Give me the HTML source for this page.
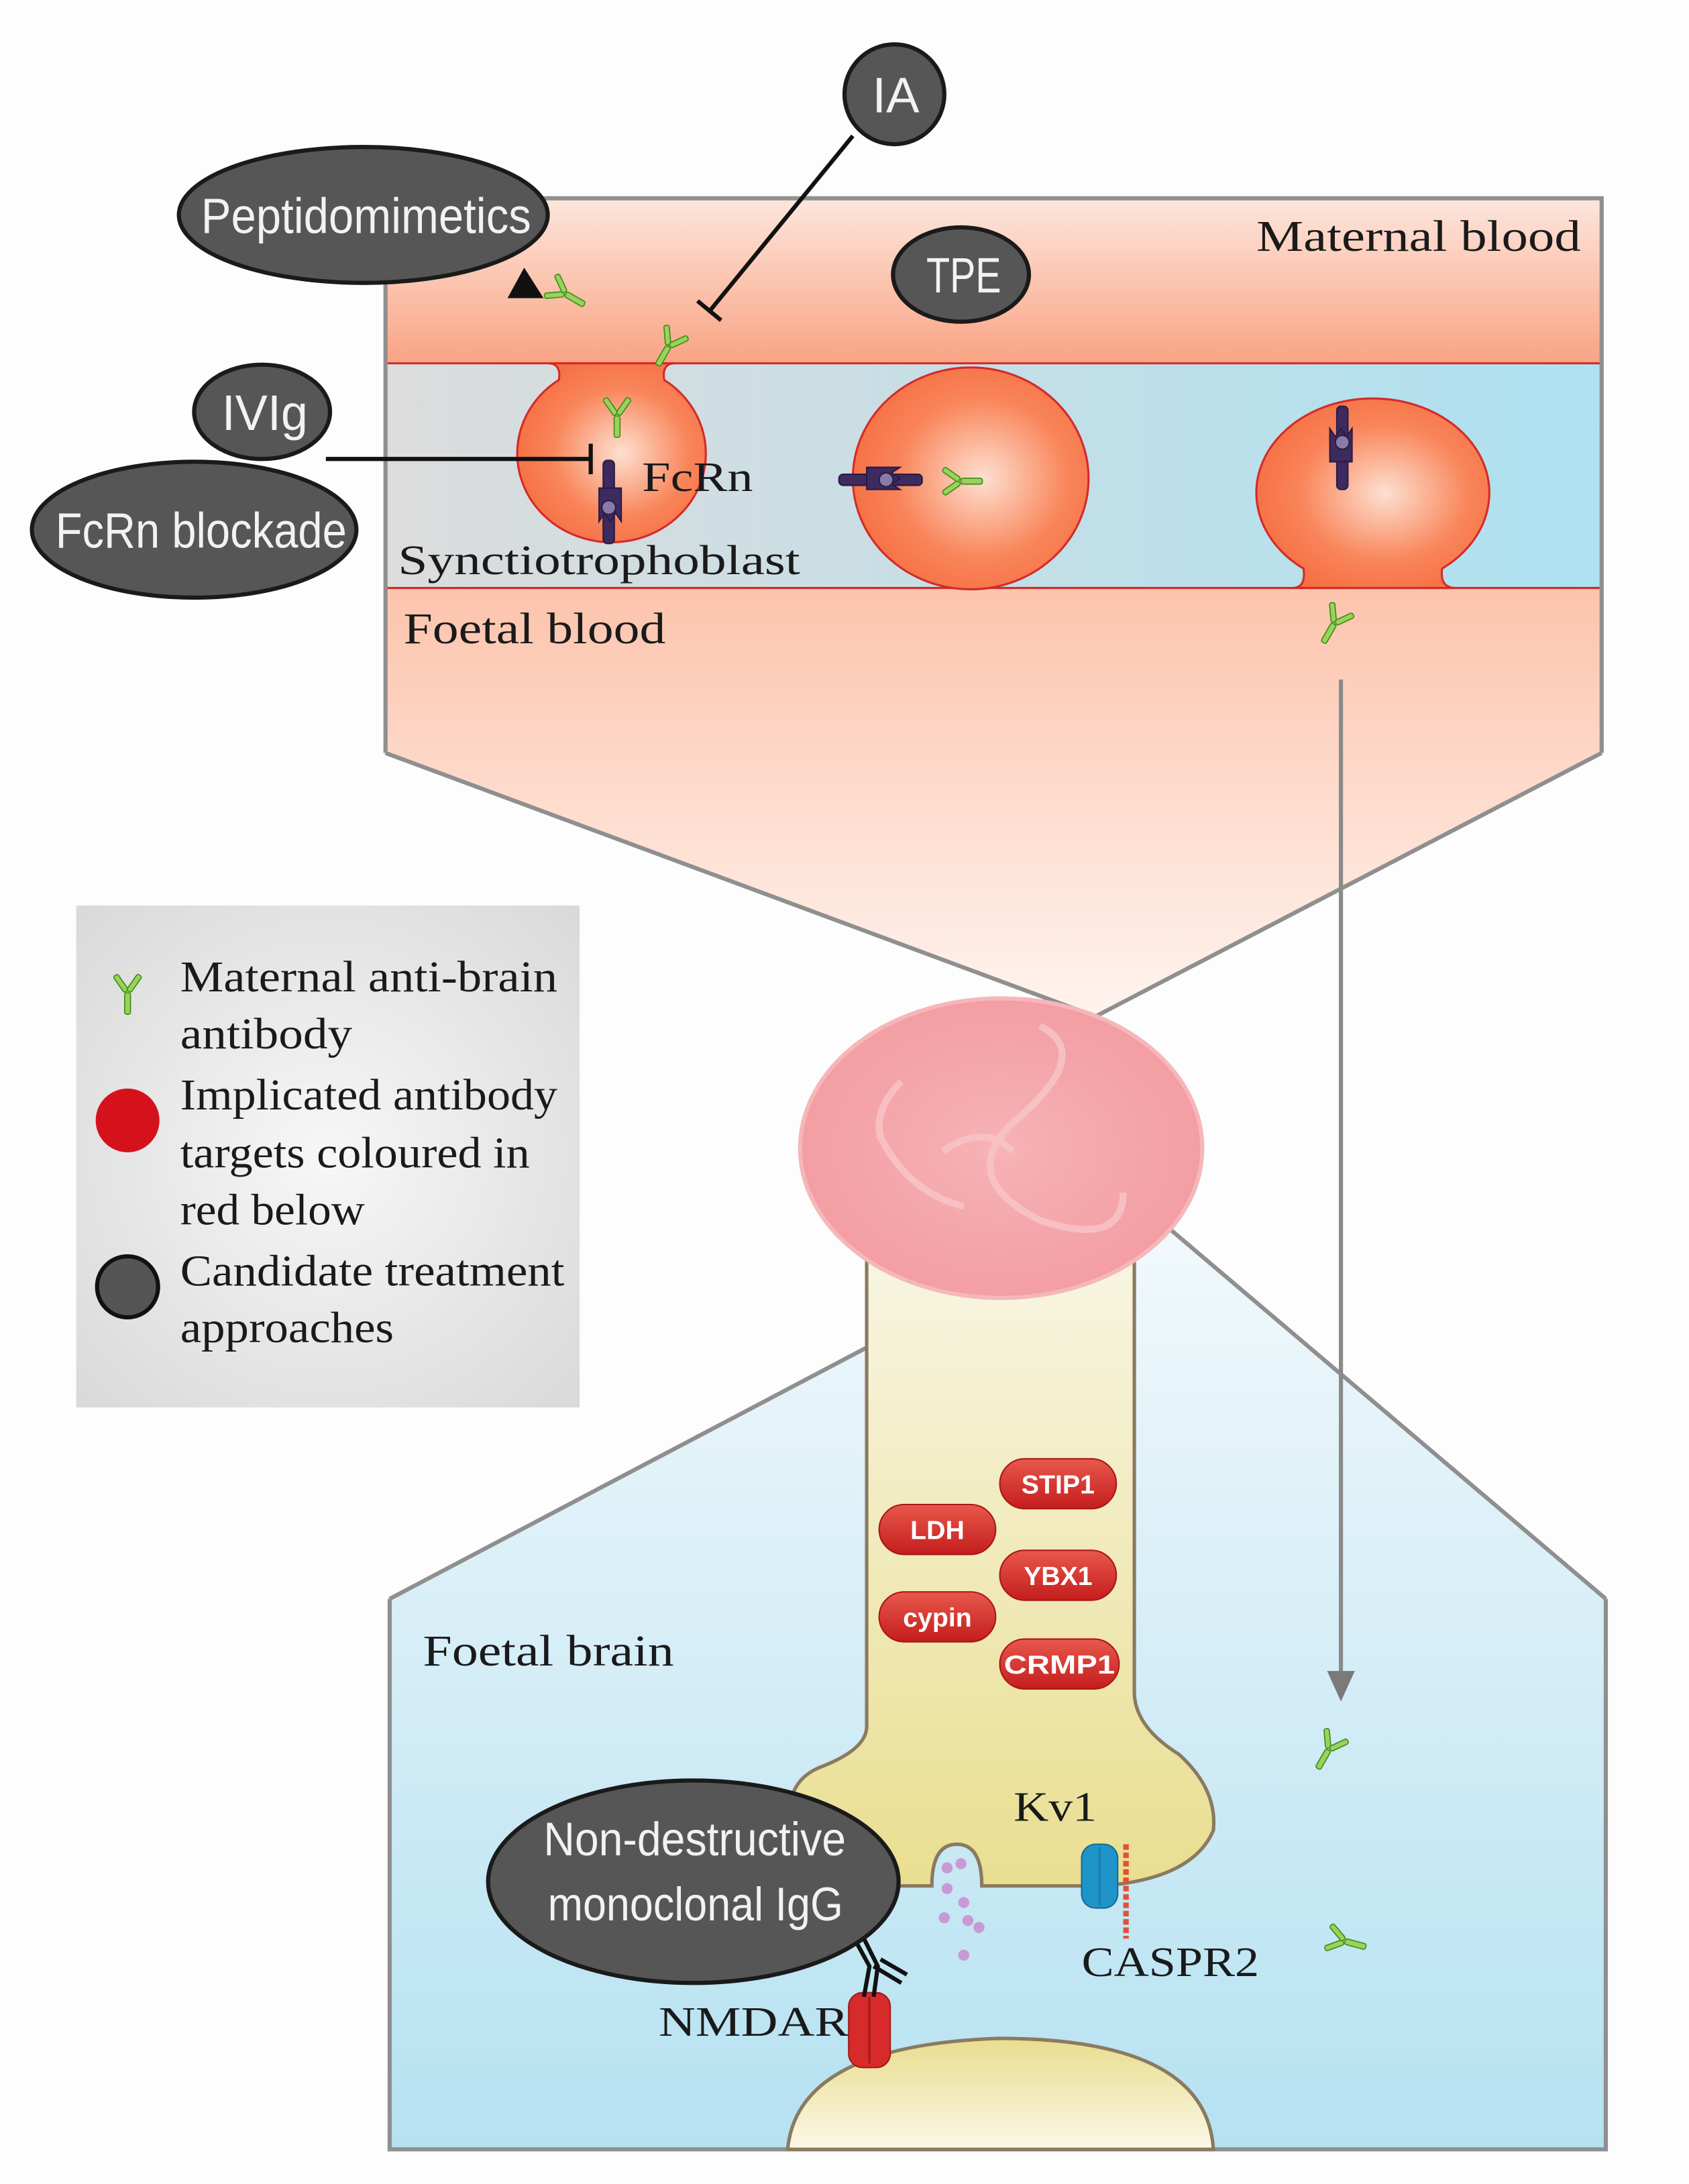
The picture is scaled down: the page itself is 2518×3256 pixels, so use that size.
<!DOCTYPE html>
<html><head><meta charset="utf-8"><style>
html,body{margin:0;padding:0;background:#fdfdfd}
svg{display:block}
.s{font-family:"Liberation Serif",serif;fill:#1a1a1a}
.b{font-family:"Liberation Sans",sans-serif;fill:#f2f2f2}
.p{font-family:"Liberation Sans",sans-serif;font-weight:bold;fill:#fff;font-size:19px}
</style></head><body>
<svg width="2518" height="3256" viewBox="0 0 1218 1575" preserveAspectRatio="none" xmlns="http://www.w3.org/2000/svg">
<defs>
<linearGradient id="mat" x1="0" y1="0" x2="0" y2="1"><stop offset="0" stop-color="#fde6dc"/><stop offset="1" stop-color="#f9a383"/></linearGradient>
<linearGradient id="band" x1="0" y1="0" x2="1" y2="0"><stop offset="0" stop-color="#dcdcdc"/><stop offset="1" stop-color="#ade1f1"/></linearGradient>
<linearGradient id="foet" x1="0" y1="0" x2="0" y2="1"><stop offset="0" stop-color="#f9a585"/><stop offset="0.35" stop-color="#fbb89c"/><stop offset="1" stop-color="#fff4ef"/></linearGradient>
<radialGradient id="cell" cx="0.55" cy="0.5" r="0.6"><stop offset="0" stop-color="#fde0d0"/><stop offset="0.6" stop-color="#f9855a"/><stop offset="1" stop-color="#f56d40"/></radialGradient>
<linearGradient id="brain" x1="0" y1="0" x2="0" y2="1"><stop offset="0" stop-color="#f3f9fc"/><stop offset="1" stop-color="#b5e1f1"/></linearGradient>
<linearGradient id="axon" x1="0" y1="0" x2="0" y2="1"><stop offset="0" stop-color="#f8f5e2"/><stop offset="1" stop-color="#e9de90"/></linearGradient>
<linearGradient id="dome" x1="0" y1="0" x2="0" y2="1"><stop offset="0" stop-color="#e9dd8e"/><stop offset="1" stop-color="#fbf8e8"/></linearGradient>
<radialGradient id="leg" cx="0.5" cy="0.5" r="0.7"><stop offset="0" stop-color="#f7f7f7"/><stop offset="1" stop-color="#d9d9d9"/></radialGradient>
<radialGradient id="fet" cx="0.5" cy="0.5" r="0.5"><stop offset="0" stop-color="#f6b3b5"/><stop offset="1" stop-color="#f39ea3"/></radialGradient>
<linearGradient id="pill" x1="0" y1="0" x2="0" y2="1"><stop offset="0" stop-color="#e8584c"/><stop offset="1" stop-color="#c41d1d"/></linearGradient>
<symbol id="ab" viewBox="-20 -25 40 50" overflow="visible">
<g fill="#9bd25a" stroke="#3f8f1e" stroke-width="1.2">
<rect x="-3" y="0" width="6" height="22" rx="2"/>
<rect x="-2.8" y="-22" width="5.5" height="20" rx="2" transform="rotate(-35 0 0)"/>
<rect x="-2.8" y="-22" width="5.5" height="20" rx="2" transform="rotate(35 0 0)"/>
</g></symbol>
<symbol id="fc" viewBox="-15 -30 30 60" overflow="visible">
<g fill="#3d2a5e" stroke="#2a1b45" stroke-width="1">
<rect x="-5" y="-30" width="8" height="60" rx="3"/>
<path d="M-8 -10 h16 v24 l-4 -6 l-4 6 l-4 -6 l-4 6z"/>
<circle cx="-1" cy="4" r="5" fill="#8a7aa8"/>
</g></symbol>
</defs>
<rect width="1218" height="1575" fill="#fdfdfd"/>

<!-- top panel -->
<polygon points="278,143 1155,143 1155,543 790,733 278,543" fill="url(#foet)"/>
<rect x="278" y="143" width="877" height="120" fill="url(#mat)"/>
<rect x="278" y="262" width="877" height="162" fill="url(#band)"/>
<line x1="278" y1="262" x2="1155" y2="262" stroke="#d42a2a" stroke-width="1.5"/>
<line x1="278" y1="424" x2="1155" y2="424" stroke="#d42a2a" stroke-width="1.5"/>
<!-- cells -->
<path d="M395 262 q10 0 8 12 a68 64 0 1 0 76 0 q-2 -12 8 -12z" fill="url(#cell)" stroke="#d42a2a" stroke-width="1.5"/>
<ellipse cx="700" cy="345" rx="85" ry="80" fill="url(#cell)" stroke="#d42a2a" stroke-width="1.5"/>
<path d="M932 424 q10 0 8 -14 A84 68 0 1 1 1040 410 q-2 14 10 14z" fill="url(#cell)" stroke="#d42a2a" stroke-width="1.5"/>
<polyline points="278,543 790,733 1155,543" fill="none" stroke="#8f8f8f" stroke-width="3"/>
<polyline points="278,543 278,143 1155,143 1155,543" fill="none" stroke="#8f8f8f" stroke-width="3"/>

<!-- fcrn -->
<use href="#fc" x="425" y="332" width="30" height="60"/>
<g transform="translate(635 345) rotate(-90)"><use href="#fc" x="-15" y="-30" width="30" height="60"/></g>
<g transform="translate(967 323) rotate(180)"><use href="#fc" x="-15" y="-30" width="30" height="60"/></g>

<!-- antibodies -->
<g transform="translate(408 212) rotate(-60)"><use href="#ab" x="-14" y="-18" width="28" height="36"/></g>
<g transform="translate(482 250) rotate(30)"><use href="#ab" x="-14" y="-18" width="28" height="36"/></g>
<g transform="translate(445 300)"><use href="#ab" x="-14" y="-18" width="28" height="36"/></g>
<g transform="translate(693 347) rotate(-90)"><use href="#ab" x="-14" y="-18" width="28" height="36"/></g>
<g transform="translate(962 450) rotate(30)"><use href="#ab" x="-14" y="-18" width="28" height="36"/></g>

<!-- labels top -->
<text class="s" x="906" y="181" font-size="32" textLength="234" lengthAdjust="spacingAndGlyphs">Maternal blood</text>
<text class="s" x="463" y="354" font-size="30" textLength="80" lengthAdjust="spacingAndGlyphs">FcRn</text>
<text class="s" x="287" y="414" font-size="30" textLength="290" lengthAdjust="spacingAndGlyphs">Synctiotrophoblast</text>
<text class="s" x="291" y="464" font-size="32" textLength="189" lengthAdjust="spacingAndGlyphs">Foetal blood</text>

<!-- inhibition lines -->
<line x1="615" y1="98" x2="512" y2="224" stroke="#111" stroke-width="3"/>
<line x1="503" y1="217" x2="520" y2="231" stroke="#111" stroke-width="3"/>
<line x1="235" y1="331" x2="426" y2="331" stroke="#111" stroke-width="3"/>
<line x1="426" y1="320" x2="426" y2="342" stroke="#111" stroke-width="3"/>
<polygon points="378,193 392,215 366,215" fill="#111"/>

<!-- bubbles -->
<g fill="#565656" stroke="#1a1a1a" stroke-width="3">
<ellipse cx="645" cy="68" rx="36" ry="36"/>
<ellipse cx="262" cy="155" rx="133" ry="49"/>
<ellipse cx="693" cy="198" rx="49" ry="34"/>
<ellipse cx="189" cy="297" rx="49" ry="34"/>
<ellipse cx="140" cy="382" rx="117" ry="49"/>
</g>
<text class="b" x="629" y="81" font-size="36" textLength="34" lengthAdjust="spacingAndGlyphs">IA</text>
<text class="b" x="145" y="168" font-size="36" textLength="238" lengthAdjust="spacingAndGlyphs">Peptidomimetics</text>
<text class="b" x="668" y="211" font-size="36" textLength="54" lengthAdjust="spacingAndGlyphs">TPE</text>
<text class="b" x="160" y="310" font-size="36" textLength="62" lengthAdjust="spacingAndGlyphs">IVIg</text>
<text class="b" x="40" y="395" font-size="36" textLength="210" lengthAdjust="spacingAndGlyphs">FcRn blockade</text>

<!-- legend -->
<rect x="55" y="653" width="363" height="362" fill="url(#leg)"/>
<g transform="translate(92 716)"><use href="#ab" x="-14" y="-22" width="28" height="44"/></g>
<circle cx="92" cy="808" r="23" fill="#d5121c"/>
<circle cx="92" cy="928" r="22" fill="#555" stroke="#111" stroke-width="3"/>
<g class="s" font-size="32">
<text x="130" y="715" textLength="272" lengthAdjust="spacingAndGlyphs">Maternal anti-brain</text>
<text x="130" y="756" textLength="124" lengthAdjust="spacingAndGlyphs">antibody</text>
<text x="130" y="800" textLength="272" lengthAdjust="spacingAndGlyphs">Implicated antibody</text>
<text x="130" y="842" textLength="252" lengthAdjust="spacingAndGlyphs">targets coloured in</text>
<text x="130" y="883" textLength="133" lengthAdjust="spacingAndGlyphs">red below</text>
<text x="130" y="927" textLength="277" lengthAdjust="spacingAndGlyphs">Candidate treatment</text>
<text x="130" y="968" textLength="154" lengthAdjust="spacingAndGlyphs">approaches</text>
</g>

<!-- bottom panel -->
<polygon points="281,1153 822,868 1158,1153 1158,1550 281,1550" fill="url(#brain)"/>
<polyline points="281,1153 822,868 1158,1153" fill="none" stroke="#8f8f8f" stroke-width="3"/>
<polyline points="281,1153 281,1550 1158,1550 1158,1153" fill="none" stroke="#8f8f8f" stroke-width="3"/>

<!-- axon -->
<path d="M625 905 L625 1245 Q625 1262 590 1275 Q568 1285 570 1310 Q572 1350 600 1360 L672 1360 Q672 1330 690 1330 Q708 1330 708 1360 L795 1360 Q860 1355 875 1320 Q878 1290 850 1265 Q818 1245 818 1220 L818 905" fill="url(#axon)" stroke="#8a7a60" stroke-width="2.5"/>
<path d="M568 1550 Q575 1475 720 1470 Q870 1470 875 1550Z" fill="url(#dome)" stroke="#8a7a60" stroke-width="2.5"/>

<!-- fetus (on top of axon top) -->
<ellipse cx="722" cy="828" rx="145" ry="108" fill="url(#fet)" stroke="#f5b7b9" stroke-width="3"/>
<g fill="none" stroke="#f8c6c8" stroke-width="5" opacity="0.8">
<path d="M750 740 q40 20 -20 70 q-40 40 20 70 q60 20 60 -20"/>
<path d="M650 780 q-20 20 -15 40 q20 40 60 50"/>
<path d="M680 830 q30 -20 50 0"/>
</g>

<!-- pills -->
<g fill="url(#pill)" stroke="#a81616" stroke-width="1">
<rect x="721" y="1052" width="84" height="36" rx="18"/>
<rect x="634" y="1085" width="84" height="36" rx="18"/>
<rect x="721" y="1118" width="84" height="36" rx="18"/>
<rect x="634" y="1148" width="84" height="36" rx="18"/>
<rect x="721" y="1182" width="86" height="36" rx="18"/>
</g>
<text class="p" x="763" y="1077" text-anchor="middle">STIP1</text>
<text class="p" x="676" y="1110" text-anchor="middle">LDH</text>
<text class="p" x="763" y="1143" text-anchor="middle">YBX1</text>
<text class="p" x="676" y="1173" text-anchor="middle">cypin</text>
<text class="p" x="764" y="1207" text-anchor="middle" textLength="80" lengthAdjust="spacingAndGlyphs">CRMP1</text>

<!-- grey arrow -->
<line x1="967" y1="490" x2="967" y2="1215" stroke="#8a8a8a" stroke-width="3"/>
<polygon points="957,1205 977,1205 967,1227" fill="#7a7a7a"/>
<g transform="translate(958 1262) rotate(30)"><use href="#ab" x="-14" y="-18" width="28" height="36"/></g>
<g transform="translate(970 1400) rotate(-75)"><use href="#ab" x="-14" y="-18" width="28" height="36"/></g>

<!-- vesicles -->
<g fill="#c79ad6">
<circle cx="683" cy="1347" r="4"/><circle cx="693" cy="1344" r="4"/><circle cx="683" cy="1362" r="4"/>
<circle cx="695" cy="1372" r="4"/><circle cx="681" cy="1383" r="4"/><circle cx="698" cy="1385" r="4"/>
<circle cx="706" cy="1390" r="4"/><circle cx="695" cy="1410" r="4"/>
</g>
<!-- Kv1 / CASPR2 -->
<rect x="780" y="1330" width="26" height="46" rx="10" fill="#1f94c8" stroke="#136a95"/>
<line x1="793" y1="1332" x2="793" y2="1374" stroke="#1a7fb0" stroke-width="1.5"/>
<line x1="812" y1="1330" x2="812" y2="1398" stroke="#e2503a" stroke-width="4" stroke-dasharray="4 2"/>
<!-- NMDAR -->
<rect x="612" y="1437" width="30" height="54" rx="10" fill="#d72b2b" stroke="#a31818"/>
<line x1="627" y1="1440" x2="627" y2="1488" stroke="#a31818" stroke-width="1.5"/>
<g stroke="#111" stroke-width="3" fill="none">
<path d="M623 1440 L627 1418 L615 1396"/><path d="M630 1440 L633 1418 L621 1394"/>
<path d="M630 1418 L650 1430"/><path d="M635 1413 L654 1424"/>
</g>

<text class="s" x="305" y="1201" font-size="32" textLength="181" lengthAdjust="spacingAndGlyphs">Foetal brain</text>
<text class="s" x="731" y="1313" font-size="30" textLength="60" lengthAdjust="spacingAndGlyphs">Kv1</text>
<text class="s" x="780" y="1425" font-size="30" textLength="128" lengthAdjust="spacingAndGlyphs">CASPR2</text>
<text class="s" x="475" y="1468" font-size="30" textLength="137" lengthAdjust="spacingAndGlyphs">NMDAR</text>
<ellipse cx="500" cy="1357" rx="148" ry="73" fill="#565656" stroke="#1a1a1a" stroke-width="3"/>
<text class="b" x="392" y="1338" font-size="34" textLength="218" lengthAdjust="spacingAndGlyphs">Non-destructive</text>
<text class="b" x="395" y="1385" font-size="34" textLength="213" lengthAdjust="spacingAndGlyphs">monoclonal IgG</text>
</svg>
</body></html>
